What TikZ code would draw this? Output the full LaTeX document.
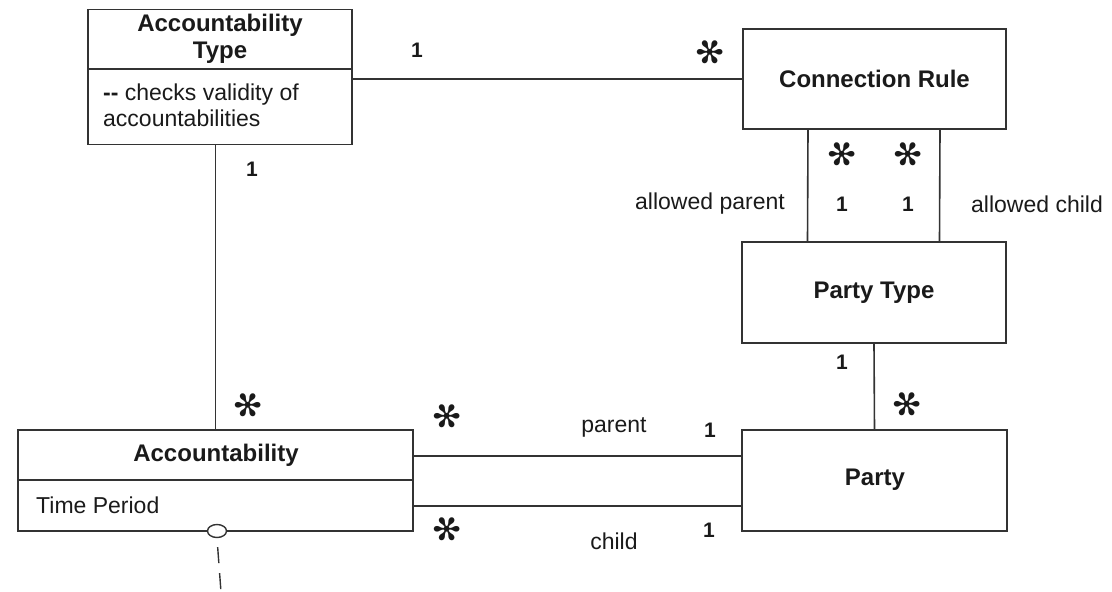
\documentclass[tikz,border=0pt]{standalone}
\usepackage{fontspec}
\setmainfont{Liberation Sans}
\newfontfamily\symfont{DejaVu Sans}
\usetikzlibrary{shapes.geometric}
\definecolor{ink}{HTML}{1A1A1A}
\definecolor{edge}{HTML}{333333}
\tikzset{
  classbox/.style={draw=edge, line width=1.6pt, rectangle, inner sep=0pt},
  assoc/.style={draw=edge, line width=1.6pt},
  title/.style={text=ink, font=\fontsize{24pt}{27pt}\selectfont\bfseries, align=center, inner sep=0pt},
  plain/.style={text=ink, font=\fontsize{23pt}{26pt}\selectfont, inner sep=0pt},
  mult/.style={text=ink, font=\fontsize{21pt}{24pt}\selectfont\bfseries, inner sep=0pt},
  many/.style={text=ink, font=\symfont\fontsize{34pt}{34pt}\selectfont, inner sep=0pt, rotate=90},
}
\begin{document}
\begin{tikzpicture}[x=1pt, y=-1pt]
\useasboundingbox (0,0) rectangle (1112,592);

% classes
\node[classbox, minimum width=264pt, minimum height=135pt] (at) at (220,77) {};
\draw[assoc] (at.west |- 0,69) -- (at.east |- 0,69);
\node[title] (atName) at (220,38.5) {Accountability\\Type};
\node[plain, anchor=west, align=left] (atNote) at (103,105) {{\bfseries -{}-} checks validity of\\accountabilities};

\node[classbox, minimum width=263pt, minimum height=100pt] (cr) at (874.5,79) {};
\node[title] (crName) at (874.5,79) {Connection Rule};

\node[classbox, minimum width=264pt, minimum height=101pt] (pt) at (874,292.5) {};
\node[title] (ptName) at (874,293) {Party Type};

\node[classbox, minimum width=265pt, minimum height=101pt] (party) at (874.5,480.5) {};
\node[title] (partyName) at (875,480) {Party};

\node[classbox, minimum width=395pt, minimum height=101pt] (acc) at (215.5,480.5) {};
\draw[assoc] (acc.west |- 0,480) -- (acc.east |- 0,480);
\node[title] (accName) at (216,455) {Accountability};
\node[plain, anchor=west] (accAttr) at (36,505) {Time Period};

% associations
\draw[assoc] (at.east |- cr.west) -- (cr.west);
\draw[assoc] (at.south -| acc.north) -- (acc.north);
\draw[assoc] ([xshift=-66.5pt]cr.south) -- ([xshift=-66.5pt]pt.north);
\draw[assoc] ([xshift=65.5pt]cr.south) -- ([xshift=65.5pt]pt.north);
\draw[assoc] (pt.south) -- (party.north);
\draw[assoc] ([yshift=24.5pt]acc.east) -- ([yshift=24.5pt]party.west);
\draw[assoc] ([yshift=-25.5pt]acc.east) -- ([yshift=-25.5pt]party.west);

% navigability mark under Accountability
\node[ellipse, draw=edge, line width=1.4pt, fill=white, minimum width=19pt, minimum height=13pt, inner sep=0pt] (nav) at (217,531) {};
\coordinate (navEnd) at (221,592);
\draw[assoc, line width=1.4pt, dash pattern=on 16pt off 10pt, shorten <=9pt] (nav.south) -- (navEnd);

% multiplicities and role names
\node[mult] (m1) at (417,50) {1};
\node[many] (m2) at (710,52) {✻};
\node[mult] (m3) at (252,169) {1};
\node[many] (m4) at (248,405) {✻};
\node[many] (m5) at (842,154) {✻};
\node[many] (m6) at (908,154) {✻};
\node[mult] (m7) at (842,204) {1};
\node[mult] (m8) at (908,204) {1};
\node[plain, anchor=east] (rp) at (785,204) {allowed parent};
\node[plain, anchor=west] (rc) at (971,204) {allowed child};
\node[mult] (m9) at (842,362) {1};
\node[many] (m10) at (907,404) {✻};
\node[many] (m11) at (447,416) {✻};
\node[plain] (rparent) at (614,427) {parent};
\node[mult] (m12) at (710,430) {1};
\node[many] (m13) at (447,529) {✻};
\node[plain] (rchild) at (614,541) {child};
\node[mult] (m14) at (709,530) {1};
\end{tikzpicture}
\end{document}
